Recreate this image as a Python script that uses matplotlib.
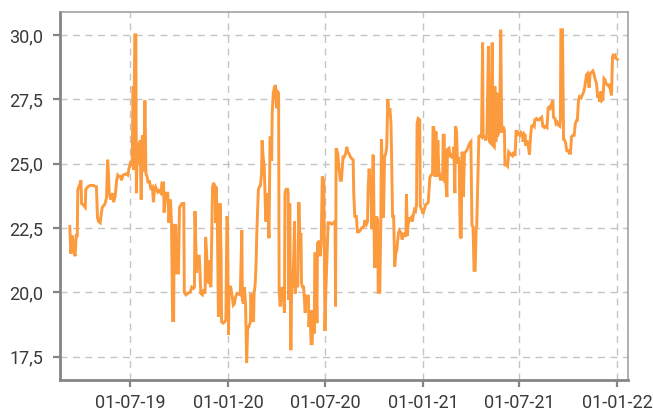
import datetime as dt
import matplotlib
matplotlib.use("Agg")
import matplotlib.pyplot as plt
import matplotlib.dates as mdates
from matplotlib.ticker import FuncFormatter, FixedLocator

# ---- data (day offsets relative to 2019-07-01, values) ----
start_date = dt.date(2019, 7, 1)

day_offsets = [
    -113, -111, -108, -106, -103, -101, -99, -98, -96, -94, -92, -91, -88, -84, -83, -79, -75, -69,
    -63, -61, -59, -56, -54, -52, -48, -46, -44, -42, -41, -39, -36, -33, -31, -28, -25, -23, -21,
    -18, -16, -13, -8, -4, -2, 2, 4, 6, 7, 9, 11, 12, 14, 17, 19, 21, 23, 24, 26, 28, 30, 32, 34,
    36, 39, 42, 44, 46, 48, 52, 54, 58, 60, 63, 64, 67, 71, 73, 76, 78, 80, 82, 83, 86, 88, 91, 93,
    96, 98, 101, 102, 105, 108, 113, 116, 119, 121, 122, 123, 125, 127, 130, 131, 133, 136, 138,
    141, 142, 144, 145, 147, 150, 152, 155, 157, 160, 161, 162, 164, 166, 168, 169, 171, 172, 175,
    178, 180, 182, 183, 185, 186, 189, 191, 194, 196, 198, 201, 203, 207, 210, 211, 213, 215, 217,
    219, 221, 223, 226, 227, 230, 232, 233, 235, 237, 238, 241, 243, 245, 247, 248, 250, 252, 255,
    257, 259, 261, 263, 265, 266, 267, 269, 271, 273, 275, 277, 279, 280, 282, 285, 287, 290, 291,
    293, 296, 297, 298, 300, 302, 304, 306, 309, 310, 312, 315, 317, 319, 321, 322, 324, 326, 329,
    330, 332, 335, 336, 338, 340, 342, 344, 346, 347, 349, 351, 352, 355, 357, 359, 361, 364, 365,
    366, 368, 370, 372, 375, 379, 382, 385, 386, 387, 390, 392, 395, 397, 400, 402, 405, 407, 409,
    411, 414, 416, 419, 420, 422, 425, 427, 430, 432, 435, 439, 441, 444, 446, 447, 449, 451, 452,
    454, 456, 457, 459, 461, 463, 465, 466, 469, 471, 472, 474, 476, 478, 480, 482, 484, 486, 488,
    490, 491, 493, 495, 497, 499, 501, 504, 506, 509, 511, 514, 516, 518, 519, 521, 523, 525, 528,
    530, 532, 534, 536, 538, 539, 541, 544, 545, 548, 550, 553, 555, 558, 560, 563, 565, 568, 569,
    571, 572, 573, 575, 576, 578, 580, 581, 583, 585, 587, 588, 590, 591, 593, 595, 596, 599, 601,
    603, 605, 606, 608, 610, 611, 613, 615, 616, 618, 620, 622, 623, 625, 626, 628, 630, 633, 635,
    638, 640, 642, 644, 646, 648, 650, 651, 653, 655, 658, 660, 662, 663, 665, 668, 670, 673, 675,
    677, 678, 680, 682, 684, 685, 687, 689, 690, 692, 694, 696, 698, 700, 703, 704, 707, 709, 711,
    713, 715, 718, 720, 723, 725, 727, 729, 732, 734, 737, 738, 740, 742, 743, 745, 748, 750, 752,
    754, 757, 759, 760, 763, 765, 768, 770, 773, 775, 778, 780, 783, 785, 787, 789, 792, 794, 795,
    798, 800, 802, 804, 807, 808, 809, 812, 814, 815, 818, 820, 823, 825, 827, 829, 832, 834, 836,
    839, 840, 842, 844, 847, 849, 852, 854, 857, 859, 862, 864, 867, 869, 871, 873, 876, 878, 881,
    882, 884, 886, 888, 890, 892, 894, 897, 899, 901, 902, 904, 906, 907, 909, 911, 912, 915,
]

values = [
    22.55, 21.5, 22.2, 21.65, 21.4, 22.2, 22.2, 23.98, 24.1, 24.2, 24.35, 23.45, 23.4, 23.3, 24.0, 24.1, 24.15, 24.15,
    24.1, 22.9, 22.75, 22.7, 23.05, 23.3, 23.4, 23.5, 23.7, 25.15, 24.9, 23.85, 23.6, 23.85, 23.5, 23.7, 24.35, 24.55, 24.5,
    24.5, 24.35, 24.55, 24.6, 24.55, 24.8, 25.1, 24.9, 28.0, 24.75, 30.0, 30.0, 23.85, 25.8, 25.0, 25.9, 23.6, 26.05, 26.05, 24.7, 27.45, 24.6, 24.5, 24.25,
    24.35, 24.05, 24.1, 23.5, 24.0, 24.1, 23.9, 23.95, 23.85, 24.25, 24.25, 23.1, 23.85, 23.85, 22.7, 23.6, 22.65, 18.9, 18.9, 22.6, 22.6, 20.75, 20.75, 23.3,
    23.4, 23.45, 23.45, 20.0, 19.9, 19.95, 20.0, 20.2, 20.15, 20.2, 23.15, 22.3, 20.75, 21.4, 21.4, 21.0, 19.95, 19.9, 20.1,
    19.95, 22.15, 21.5, 20.35, 21.25, 20.35, 20.2, 24.1, 24.25, 24.1, 22.7, 24.1, 22.75, 19.05, 21.25, 23.45, 21.5, 18.85, 18.8,
    18.85, 18.95, 22.95, 22.8, 18.35, 20.2, 20.2, 19.95, 19.5, 19.55, 19.8, 19.95, 19.95, 19.9, 22.4, 19.7, 19.55, 20.2, 19.5,
    17.25, 18.65, 18.65, 18.85, 19.95, 18.95, 18.85, 19.95, 20.3, 21.25, 22.25, 23.98, 24.1, 24.15, 24.6, 25.9, 25.25, 24.9, 22.75,
    23.85, 23.2, 22.1, 26.05, 25.9, 25.1, 26.95, 27.75, 27.95, 28.05, 27.15, 27.8, 27.75, 20.1, 19.45, 20.2, 20.1, 19.2, 23.85,
    24.0, 24.0, 23.85, 19.7, 23.45, 17.75, 20.85, 20.2, 22.75, 19.95, 20.35, 20.2, 23.5, 22.15, 22.3, 20.35, 20.2, 20.2, 19.2,
    19.85, 19.85, 19.85, 18.65, 19.3, 18.0, 18.0, 19.3, 18.4, 21.5, 21.5, 18.8, 21.9, 22.0, 21.4, 21.9, 24.5, 24.35, 21.4,
    18.5, 20.2, 21.4, 22.7, 22.7, 22.65, 22.7, 22.75, 19.45, 25.6, 25.4, 24.9, 24.35, 24.35, 25.25, 25.25, 25.4, 25.65, 25.45,
    25.4, 25.25, 25.2, 25.15, 23.9, 22.95, 22.95, 22.35, 22.35, 22.4, 22.5, 22.55, 22.8, 22.65, 22.75, 23.98, 24.8, 23.98, 24.35,
    22.45, 25.3, 25.3, 21.0, 21.0, 22.95, 22.8, 20.0, 20.0, 22.8, 25.95, 24.7, 22.9, 25.3, 25.35, 25.65, 27.5, 26.95, 27.15,
    26.55, 25.45, 22.95, 22.95, 21.0, 21.5, 21.65, 22.3, 22.4, 22.3, 22.05, 22.3, 22.2, 22.2, 23.8, 22.2, 22.9, 22.8, 22.9,
    22.75, 23.0, 23.2, 23.15, 23.4, 26.55, 26.75, 26.7, 23.35, 23.2, 23.05, 23.25, 23.4, 23.45, 23.5, 24.45, 24.55, 24.6, 26.45,
    26.3, 24.5, 26.2, 26.2, 24.5, 25.9, 24.6, 24.6, 24.35, 24.5, 24.35, 26.1, 26.1, 24.3, 24.3, 23.7, 25.55, 25.6, 25.25,
    25.4, 25.2, 25.25, 25.65, 23.85, 26.45, 26.3, 25.0, 25.25, 25.0, 22.15, 22.1, 25.45, 25.4, 23.7, 25.4, 25.45, 25.55, 25.65,
    25.8, 25.85, 22.6, 22.55, 20.85, 20.85, 22.5, 22.55, 24.25, 26.05, 26.1, 26.05, 29.7, 26.1, 26.05, 25.9, 26.05, 29.55, 25.85,
    25.8, 25.9, 29.7, 25.7, 25.65, 28.0, 25.85, 27.75, 26.05, 26.2, 26.3, 30.2, 26.2, 26.45, 26.3, 24.95, 24.95, 24.9, 25.45,
    25.4, 25.35, 25.3, 25.45, 25.3, 26.3, 26.15, 26.2, 26.1, 26.2, 26.1, 25.85, 26.15, 26.1, 25.7, 25.9, 25.65, 25.35, 26.05,
    26.45, 26.5, 26.45, 26.7, 26.75, 26.7, 26.7, 26.75, 26.8, 26.45, 26.4, 26.45, 26.4, 27.15, 27.2, 27.15, 27.35, 27.45, 26.8,
    26.75, 26.55, 26.6, 26.5, 26.45, 26.7, 30.2, 30.2, 25.95, 25.95, 25.8, 25.5, 25.5, 25.4, 25.4, 26.05, 26.1, 26.1, 26.55,
    26.7, 26.7, 27.45, 27.6, 27.55, 27.65, 27.8, 28.0, 28.45, 28.5, 27.95, 28.5, 28.55, 28.6, 28.5, 28.3, 28.1, 27.6, 27.6,
    27.4, 27.8, 27.45, 27.5, 28.3, 28.25, 28.1, 28.05, 28.0, 28.1, 27.85, 27.65, 29.15, 29.2, 29.15, 29.2, 29.1, 29.05,
]

x_ticks = ["2019-07-01", "2020-01-01", "2020-07-01", "2021-01-01", "2021-07-01", "2022-01-01"]
y_ticks = [17.5, 20.0, 22.5, 25.0, 27.5, 30.0]

# ---- plotting ----
plt.rcParams["font.family"] = ["Roboto", "DejaVu Sans"]

dates = [start_date + dt.timedelta(days=d) for d in day_offsets]

fig = plt.figure(figsize=(6.53, 4.12), dpi=100)
ax = fig.add_axes([60 / 653, 32 / 412, 568 / 653, 368 / 412])

ax.plot(dates, values, color="#FC9A3E", lw=2.1, solid_joinstyle="miter", zorder=3)

x0 = mdates.date2num(start_date)
ax.set_xlim(x0 - 131.4, x0 + 935)
ax.set_ylim(16.59, 30.89)

ax.xaxis.set_major_locator(FixedLocator([mdates.date2num(dt.date.fromisoformat(s)) for s in x_ticks]))
ax.xaxis.set_major_formatter(mdates.DateFormatter("%d-%m-%y"))
ax.yaxis.set_major_locator(FixedLocator(y_ticks))
ax.yaxis.set_major_formatter(FuncFormatter(lambda v, p: f"{v:.1f}".replace(".", ",")))

ax.grid(True, color="#c4c4c4", lw=1.0, linestyle=(0, (5, 4)), zorder=0)
ax.set_axisbelow(True)

for side in ("left", "bottom"):
    ax.spines[side].set_color("#858585")
    ax.spines[side].set_linewidth(2.0)
for side in ("top", "right"):
    ax.spines[side].set_color("#9a9a9a")
    ax.spines[side].set_linewidth(1.1)

ax.tick_params(axis="both", which="major", length=5, width=1.6, color="#858585",
               labelsize=13, labelcolor="#3a3a3a")
ax.tick_params(axis="y", pad=7)
ax.tick_params(axis="x", pad=5)

fig.savefig("out.png", dpi=100)
